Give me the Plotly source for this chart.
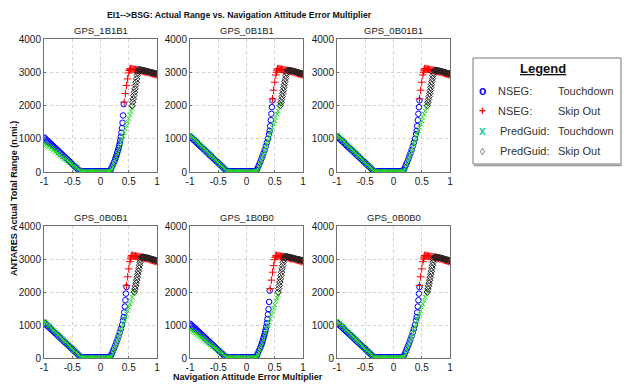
import plotly.graph_objects as go

W, H = 624, 385

# ---------------- data ----------------
panel_names = ["GPS_1B1B1", "GPS_0B1B1", "GPS_0B01B1", "GPS_0B0B1", "GPS_1B0B0", "GPS_0B0B0"]
panel_variant = ["A", "B", "B", "B", "A", "B"]

x_ticks = [-1, -0.5, 0, 0.5, 1]
x_tick_labels = ["-1", "-0.5", "0", "0.5", "1"]
y_ticks = [0, 1000, 2000, 3000, 4000]
y_tick_labels = ["0", "1000", "2000", "3000", "4000"]

# shared x positions of the descending and flat branches
x_desc = [-1.00, -0.98, -0.96, -0.94, -0.92, -0.90, -0.88, -0.86, -0.84, -0.82, -0.80, -0.78, -0.76,
          -0.74, -0.72, -0.70, -0.68, -0.66, -0.64, -0.62, -0.60, -0.58, -0.56, -0.54, -0.52, -0.50,
          -0.48, -0.46, -0.44, -0.42, -0.40, -0.38, -0.36]
x_flat = [-0.34, -0.32, -0.30, -0.28, -0.26, -0.24, -0.22, -0.20, -0.18, -0.16, -0.14, -0.12, -0.10,
          -0.08, -0.06, -0.04, -0.02, 0.00, 0.02, 0.04, 0.06, 0.08, 0.10, 0.12, 0.14, 0.16]

# ---- Variant A panels (GPS_1B1B1, GPS_1B0B0) ----
nseg_td_rise_x_A = [0.18, 0.20, 0.22, 0.24, 0.26, 0.27, 0.28, 0.29, 0.30, 0.31, 0.32, 0.33, 0.34,
                    0.35, 0.36, 0.37, 0.38, 0.39, 0.40, 0.41]
nseg_td_y_A = [1040, 1008, 975, 944, 911, 880, 848, 815, 783, 752, 719, 688, 655, 623, 591, 560, 527,
               495, 463, 432, 399, 368, 335, 303, 271, 240, 207, 175, 143, 112, 80, 48, 25,
               20, 20, 18, 18, 20, 20, 18, 18, 20, 20, 22, 20, 20, 18, 18, 20, 20, 22, 20, 20, 18,
               20, 20, 22, 24, 28,
               70, 140, 220, 300, 380, 430, 480, 540, 600, 660, 720, 790, 860, 950, 1060, 1180,
               1320, 1480, 1700, 2040]
nseg_so_x_A = [0.42, 0.44, 0.46, 0.48, 0.50, 0.51, 0.52, 0.53,
               0.54, 0.56, 0.58, 0.60, 0.62, 0.64, 0.66, 0.68, 0.70, 0.72, 0.74, 0.76, 0.78, 0.80,
               0.82, 0.84, 0.86, 0.88, 0.90, 0.92, 0.94, 0.96, 0.98, 1.00]
nseg_so_y_A = [2100, 2360, 2600, 2800, 2980, 3050, 3090, 3110,
               3100, 3100, 3090, 3080, 3080, 3070, 3060, 3060, 3050, 3040, 3040, 3030, 3020, 3010,
               3000, 3000, 2990, 2980, 2970, 2960, 2950, 2940, 2930, 2920]
pg_td_rise_x_A = [0.18, 0.20, 0.22, 0.24, 0.26, 0.28, 0.30, 0.32, 0.34, 0.36, 0.38, 0.40, 0.42, 0.44,
                  0.46, 0.48, 0.50, 0.52, 0.54, 0.56]
pg_td_y_A = [870, 850, 820, 800, 765, 750, 715, 700, 662, 648, 610, 598, 558, 545, 505, 495, 452,
             440, 398, 390, 345, 335, 292, 282, 240, 228, 185, 175, 132, 122, 80, 68, 30,
             12, 10, 8, 10, 12, 10, 8, 10, 12, 10, 10, 12, 10, 8, 10, 12, 10, 8, 10, 12, 10, 10,
             12, 10, 12, 15,
             20, 60, 150, 250, 350, 460, 560, 660, 770, 870, 980, 1080, 1190, 1300, 1400, 1510,
             1610, 1720, 1820, 1920]
pg_so_x_A = [0.56, 0.57, 0.58, 0.59, 0.60, 0.61, 0.62, 0.63, 0.64, 0.65, 0.66, 0.67, 0.68,
             0.70, 0.72, 0.74, 0.76, 0.78, 0.80, 0.82, 0.84, 0.86, 0.88, 0.90, 0.92, 0.94, 0.96,
             0.98, 1.00]
pg_so_y_A = [1990, 2100, 2200, 2300, 2400, 2500, 2600, 2700, 2800, 2900, 2980, 3040, 3080,
             3080, 3070, 3060, 3050, 3050, 3040, 3030, 3020, 3010, 3000, 2990, 2990, 2980, 2970,
             2960, 2950]

# ---- Variant B panels (GPS_0B1B1, GPS_0B01B1, GPS_0B0B1, GPS_0B0B0) ----
nseg_td_rise_x_B = [0.18, 0.20, 0.22, 0.24, 0.26, 0.28, 0.30, 0.32, 0.34, 0.36, 0.38, 0.40,
                    0.41, 0.42, 0.43, 0.44, 0.45, 0.46]
nseg_td_y_B = [1070, 1040, 1005, 975, 941, 912, 877, 848, 813, 784, 749, 720, 685, 656, 621, 592,
               557, 528, 493, 464, 429, 400, 365, 336, 301, 272, 237, 208, 173, 144, 109, 80, 45,
               22, 20, 20, 18, 20, 20, 18, 20, 20, 22, 20, 22, 20, 18, 20, 20, 22, 20, 20, 18, 20,
               22, 20, 22, 26, 30,
               60, 130, 210, 290, 380, 470, 560, 660, 770, 880, 1000, 1140, 1240, 1380, 1560,
               1750, 1950, 2150]
nseg_so_x_B = [0.46, 0.48, 0.50, 0.52, 0.53, 0.54, 0.55, 0.56,
               0.58, 0.60, 0.62, 0.64, 0.66, 0.68, 0.70, 0.72, 0.74, 0.76, 0.78, 0.80, 0.82, 0.84,
               0.86, 0.88, 0.90, 0.92, 0.94, 0.96, 0.98, 1.00]
nseg_so_y_B = [2200, 2460, 2700, 2920, 3000, 3060, 3100, 3110,
               3100, 3090, 3090, 3080, 3070, 3070, 3060, 3050, 3050, 3040, 3030, 3020, 3010, 3000,
               2990, 2980, 2970, 2960, 2950, 2940, 2930, 2920]
pg_td_rise_x_B = [0.18, 0.20, 0.22, 0.24, 0.26, 0.28, 0.30, 0.32, 0.34, 0.36, 0.38, 0.40, 0.42,
                  0.44, 0.46, 0.48, 0.50, 0.52, 0.54, 0.56, 0.58, 0.60]
pg_td_y_B = [1120, 1095, 1052, 1030, 985, 962, 917, 895, 850, 828, 782, 760, 715, 693, 648, 625,
             580, 558, 512, 490, 445, 423, 378, 355, 310, 288, 243, 220, 175, 152, 108, 85, 45,
             12, 10, 8, 10, 12, 10, 8, 10, 12, 10, 10, 12, 10, 8, 10, 12, 10, 8, 10, 12, 10, 10,
             12, 10, 12, 15,
             20, 50, 140, 240, 340, 440, 540, 640, 740, 840, 940, 1040, 1140, 1240, 1340, 1440,
             1540, 1640, 1740, 1840, 1940, 2040]
pg_so_x_B = [0.60, 0.61, 0.62, 0.63, 0.64, 0.65, 0.66, 0.67, 0.68, 0.69, 0.70, 0.71, 0.72,
             0.74, 0.76, 0.78, 0.80, 0.82, 0.84, 0.86, 0.88, 0.90, 0.92, 0.94, 0.96, 0.98, 1.00]
pg_so_y_B = [2000, 2090, 2180, 2270, 2360, 2450, 2540, 2630, 2720, 2810, 2900, 2980, 3050,
             3060, 3060, 3050, 3040, 3040, 3030, 3020, 3010, 3000, 2990, 2980, 2970, 2960, 2950]

variants = {
    "A": dict(nseg_td=(x_desc + x_flat + nseg_td_rise_x_A, nseg_td_y_A),
              nseg_so=(nseg_so_x_A, nseg_so_y_A),
              pg_td=(x_desc + x_flat + pg_td_rise_x_A, pg_td_y_A),
              pg_so=(pg_so_x_A, pg_so_y_A)),
    "B": dict(nseg_td=(x_desc + x_flat + nseg_td_rise_x_B, nseg_td_y_B),
              nseg_so=(nseg_so_x_B, nseg_so_y_B),
              pg_td=(x_desc + x_flat + pg_td_rise_x_B, pg_td_y_B),
              pg_so=(pg_so_x_B, pg_so_y_B)),
}

legend_rows = [("o", "#0000ff", "NSEG:", "Touchdown"),
               ("+", "#ff0000", "NSEG:", "Skip Out"),
               ("x", "#22c8b4", "PredGuid:", "Touchdown"),
               ("\u25ca", "#555555", "PredGuid:", "Skip Out")]

# ---------------- layout helpers ----------------
FONT = "Liberation Sans, Arial, sans-serif"
def px(x):
    return x / W
def py(y):
    return 1 - y / H

col_px = [(44, 157), (190, 303), (337, 450)]
row_px = [(39, 172), (226, 358)]

styles = {
    "nseg_td": dict(symbol="circle-open", size=5.5, color="#0000ff", lw=1),
    "nseg_so": dict(symbol="cross-thin-open", size=5.5, color="#ff0000", lw=1),
    "pg_td": dict(symbol="x-thin-open", size=4.5, color="#22e022", lw=1),
    "pg_so": dict(symbol="diamond-open", size=5, color="#222222", lw=1),
}

fig = go.Figure()
annotations = []
layout_axes = {}
for i, name in enumerate(panel_names):
    r, c = divmod(i, 3)
    sfx = "" if i == 0 else str(i + 1)
    data = variants[panel_variant[i]]
    for key in ["nseg_td", "nseg_so", "pg_td", "pg_so"]:
        xs, ys = data[key]
        st = styles[key]
        fig.add_trace(go.Scatter(
            x=xs, y=ys, mode="markers", xaxis="x" + sfx, yaxis="y" + sfx, showlegend=False,
            marker=dict(symbol=st["symbol"], size=st["size"], color=st["color"],
                        line=dict(color=st["color"], width=st["lw"]))))
    x0, x1 = col_px[c]
    y0, y1 = row_px[r]
    common = dict(showline=True, mirror=True, linecolor="#707070", linewidth=1,
                  showgrid=True, gridcolor="#d2d2d2", griddash="dot", gridwidth=1,
                  zeroline=False, ticks="inside", ticklen=2, tickcolor="#707070",
                  tickfont=dict(family=FONT, size=10, color="#1a1a1a"), fixedrange=True,
                  automargin=False)
    layout_axes["xaxis" + sfx] = dict(domain=[px(x0), px(x1)], anchor="y" + sfx, range=[-1, 1],
                                      tickmode="array", tickvals=x_ticks, ticktext=x_tick_labels,
                                      **common)
    layout_axes["yaxis" + sfx] = dict(domain=[py(y1), py(y0)], anchor="x" + sfx, range=[0, 4000],
                                      tickmode="array", tickvals=y_ticks, ticktext=y_tick_labels,
                                      **common)
    annotations.append(dict(text=name, x=px((x0 + x1) / 2), y=py(y0 - 9), xref="paper", yref="paper",
                            showarrow=False, xanchor="center", yanchor="middle",
                            font=dict(family=FONT, size=9.5, color="#1a1a1a")))

# titles / axis labels
annotations.append(dict(text="<b>EI1-->BSG: Actual Range vs. Navigation Attitude Error Multiplier</b>",
                        x=px(239), y=py(15), xref="paper", yref="paper", showarrow=False,
                        xanchor="center", yanchor="middle", font=dict(family=FONT, size=8.7, color="#111")))
annotations.append(dict(text="<b>Navigation Attitude Error Multiplier</b>",
                        x=px(248), y=py(377), xref="paper", yref="paper", showarrow=False,
                        xanchor="center", yanchor="middle", font=dict(family=FONT, size=9, color="#111")))
annotations.append(dict(text="<b>ANTARES Actual Total Range (n.mi.)</b>", textangle=-90,
                        x=px(14), y=py(199), xref="paper", yref="paper", showarrow=False,
                        xanchor="center", yanchor="middle", font=dict(family=FONT, size=9, color="#111")))

# legend box (drawn as shapes + text)
shapes = [
    dict(type="rect", xref="paper", yref="paper", x0=px(473), x1=px(621), y0=py(164), y1=py(58),
         line=dict(color="#777777", width=1), fillcolor="white", layer="below"),
    dict(type="line", xref="paper", yref="paper", x0=px(474), x1=px(622), y0=py(165.5), y1=py(165.5),
         line=dict(color="#999999", width=1.5)),
]
annotations.append(dict(text="<b><u>Legend</u></b>", x=px(543), y=py(69), xref="paper", yref="paper",
                        showarrow=False, xanchor="center", yanchor="middle",
                        font=dict(family=FONT, size=13, color="#111")))
for k, (sym, colr, lab1, lab2) in enumerate(legend_rows):
    yy = 91 + 20 * k
    annotations.append(dict(text="<b>" + sym + "</b>" if sym != "\u25ca" else sym,
                            x=px(482), y=py(yy), xref="paper", yref="paper",
                            showarrow=False, xanchor="center", yanchor="middle",
                            font=dict(family=FONT, size=12 if sym != "\u25ca" else 10, color=colr)))
    annotations.append(dict(text=lab1, x=px(496 if lab1 == "NSEG:" else 498), y=py(yy), xref="paper",
                            yref="paper", showarrow=False, xanchor="left", yanchor="middle",
                            font=dict(family=FONT, size=11, color="#333")))
    annotations.append(dict(text=lab2, x=px(556), y=py(yy), xref="paper", yref="paper",
                            showarrow=False, xanchor="left", yanchor="middle",
                            font=dict(family=FONT, size=11, color="#333")))

fig.update_layout(width=W, height=H, margin=dict(l=0, r=0, t=0, b=0),
                  paper_bgcolor="white", plot_bgcolor="white",
                  annotations=annotations, shapes=shapes, **layout_axes)

fig.write_html("out.html", config={"displayModeBar": False},
               post_script="document.body.style.margin='0px';document.body.style.overflow='hidden';")
